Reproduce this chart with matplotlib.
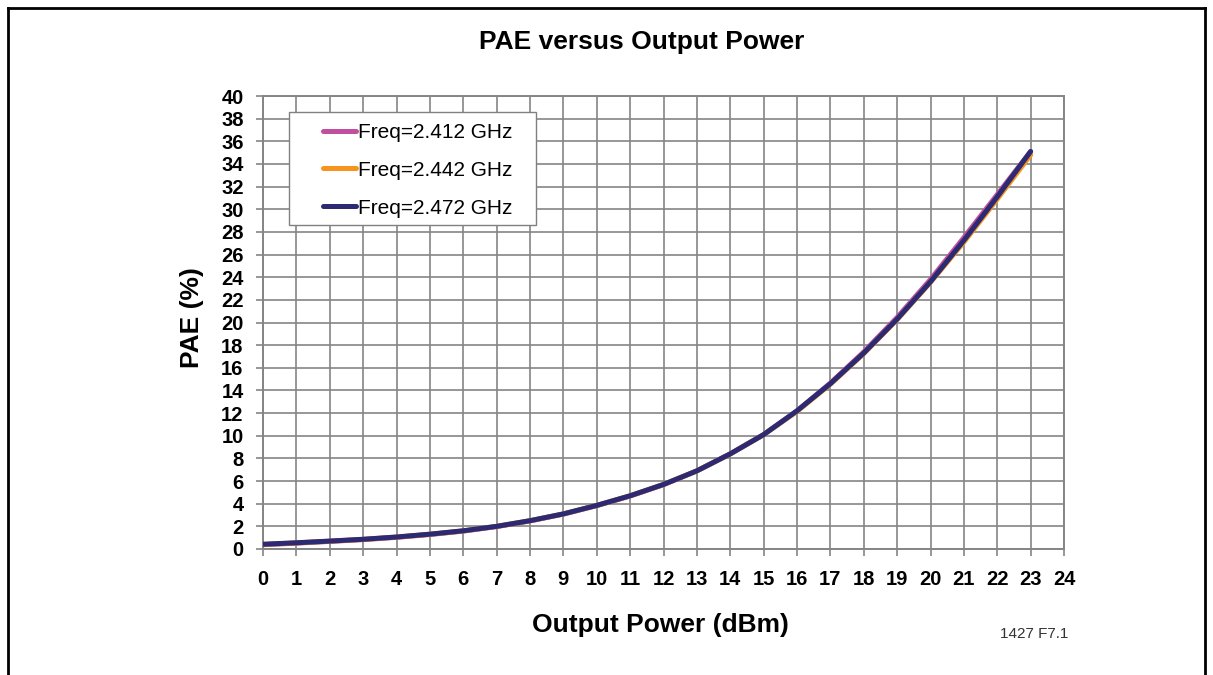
import matplotlib
matplotlib.use("Agg")
import matplotlib.pyplot as plt
from matplotlib.lines import Line2D
from matplotlib.patches import Rectangle

plt.rcParams['font.family'] = ['Liberation Sans', 'DejaVu Sans']

power = [0, 1, 2, 3, 4, 5, 6, 7, 8, 9, 10, 11, 12, 13, 14, 15, 16, 17, 18, 19, 20, 21, 22, 23]
pae_2412 = [0.38, 0.52, 0.67, 0.83, 1.03, 1.28, 1.58, 1.98, 2.48, 3.08, 3.83, 4.68, 5.68, 6.9, 8.4, 10.1, 12.2, 14.65, 17.4, 20.45, 23.8, 27.5, 31.3, 35.1]
pae_2442 = [0.4, 0.54, 0.69, 0.85, 1.05, 1.3, 1.6, 2.0, 2.5, 3.1, 3.85, 4.7, 5.7, 6.9, 8.4, 10.1, 12.15, 14.55, 17.25, 20.25, 23.55, 27.1, 30.9, 34.8]
pae_2472 = [0.42, 0.55, 0.7, 0.86, 1.06, 1.31, 1.61, 2.0, 2.5, 3.1, 3.85, 4.7, 5.7, 6.9, 8.4, 10.1, 12.2, 14.6, 17.3, 20.3, 23.6, 27.25, 31.1, 35.1]
series_labels = ['Freq=2.412 GHz', 'Freq=2.442 GHz', 'Freq=2.472 GHz']
colors = ['#C0509F', '#F7941D', '#2B2A72']
x_ticks = list(range(0, 25))
y_ticks = list(range(0, 41, 2))

W, H = 1213, 675
AX_L, AX_R, AX_T, AX_B = 263, 1064, 96, 549
fig = plt.figure(figsize=(W / 100, H / 100), dpi=100)
ax = fig.add_axes([AX_L / W, 1 - AX_B / H, (AX_R - AX_L) / W, (AX_B - AX_T) / H])
aw, ah = AX_R - AX_L, AX_B - AX_T

for ys, lab, c in zip([pae_2412, pae_2442, pae_2472], series_labels, colors):
    ax.plot(power, ys, color=c, lw=3.6, label=lab, solid_capstyle='round', zorder=3)

ax.set_xlim(0, 24)
ax.set_ylim(0, 40)
ax.set_xticks(x_ticks)
ax.set_yticks(y_ticks)
ax.grid(True, color='#858585', lw=1.2)
ax.set_axisbelow(True)
for s in ax.spines.values():
    s.set_color('#858585')
    s.set_linewidth(1.4)
ax.tick_params(axis='x', direction='out', length=5, width=1.2, color='#858585', pad=10, labelsize=14.5)
ax.tick_params(axis='y', direction='out', length=5, width=1.2, color='#858585', pad=9, labelsize=14.5)
for t in ax.get_xticklabels() + ax.get_yticklabels():
    t.set_fontweight('bold')

# legend box
ax.add_patch(Rectangle(((289 - AX_L) / aw, 1 - (225 - AX_T) / ah), 247 / aw, 113 / ah,
                       transform=ax.transAxes, facecolor='white', edgecolor='#808080',
                       lw=1.0, zorder=4))
leg = ax.legend(loc='upper left', bbox_to_anchor=((323 - AX_L) / aw, 1 - (123 - AX_T) / ah),
                frameon=False, fontsize=15, handlelength=1.6, handletextpad=0.1,
                labelspacing=0.9, borderpad=0, borderaxespad=0)
leg.set_zorder(5)
for h in leg.get_lines():
    h.set_linewidth(3.6)

fig.text(642 / W, 1 - 42 / H, 'PAE versus Output Power', ha='center', va='center',
         fontsize=19, fontweight='bold')
fig.text(660 / W, 1 - 625 / H, 'Output Power (dBm)', ha='center', va='center',
         fontsize=19, fontweight='bold')
fig.text(192 / W, 1 - 318 / H, 'PAE (%)', ha='center', va='center', rotation=90,
         fontsize=19, fontweight='bold')
fig.text(1034 / W, 1 - 634 / H, '1427 F7.1', ha='center', va='center', fontsize=11, color='#333333')

# outer frame
lw = 2.0
fig.add_artist(Line2D([8 / W, 8 / W], [0, 1 - 8 / H], transform=fig.transFigure, color='black', lw=lw))
fig.add_artist(Line2D([1205 / W, 1205 / W], [0, 1 - 8 / H], transform=fig.transFigure, color='black', lw=lw))
fig.add_artist(Line2D([8 / W, 1205 / W], [1 - 8 / H, 1 - 8 / H], transform=fig.transFigure, color='black', lw=lw))

fig.savefig('out.png', dpi=100)
